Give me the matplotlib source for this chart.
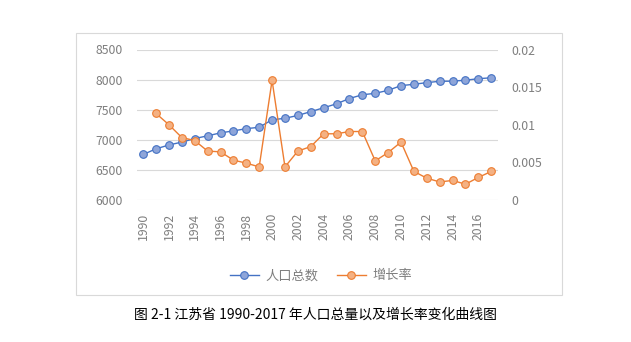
import numpy as np
import matplotlib.pyplot as plt
from matplotlib.patches import Rectangle
from matplotlib.lines import Line2D

plt.rcParams['font.family'] = ['Noto Sans CJK SC', 'DejaVu Sans']

years = list(range(1990, 2018))
population = [6756, 6850, 6914, 6962, 7021, 7066, 7115, 7148, 7185, 7208,
              7333, 7357, 7405, 7468, 7532, 7598, 7686, 7748, 7772, 7822,
              7900, 7922, 7950, 7972, 7974, 7990, 8015, 8030]
# growth rate starts in 1991
rate = [None, 0.0115, 0.0100, 0.0083, 0.0079, 0.0065, 0.0064, 0.0053, 0.0049, 0.0044,
        0.0159, 0.0044, 0.0065, 0.0071, 0.0088, 0.0088, 0.0091, 0.0091, 0.0052, 0.0063,
        0.0077, 0.0038, 0.0029, 0.0024, 0.0026, 0.0021, 0.0030, 0.0038]

left_ticks = [6000, 6500, 7000, 7500, 8000, 8500]
right_ticks = [0, 0.005, 0.01, 0.015, 0.02]
right_labels = ['0', '0.005', '0.01', '0.015', '0.02']

gray = '#7f7f7f'
grid_c = '#d9d9d9'
blue_line, blue_face = '#4472c4', '#8ea5d9'
orange_line, orange_face = '#ed7d31', '#f4b183'

fig = plt.figure(figsize=(6.31, 3.42), dpi=100)
fig.patches.append(Rectangle((76 / 631, 47 / 342), 486 / 631, 262 / 342,
                             transform=fig.transFigure, fill=False,
                             edgecolor=grid_c, linewidth=0.8))

ax = fig.add_axes([136.7 / 631, 142 / 342, 361 / 631, 150.5 / 342])
x = np.arange(len(years))
ax.plot(x, population, color=blue_line, lw=1.0, marker='o', ms=5.5,
        mfc=blue_face, mec=blue_line, mew=0.8, zorder=3)
ax.set_xlim(-0.5, len(years) - 0.5)
ax.set_ylim(6000, 8500)
ax.set_yticks(left_ticks)
ax.grid(axis='y', color=grid_c, lw=0.8)
ax.set_axisbelow(True)
ax.set_xticks(x[::2])
ax.set_xticklabels([str(y) for y in years[::2]], rotation=90, va='top')
for s in ax.spines.values():
    s.set_visible(False)
ax.tick_params(axis='both', length=0, colors=gray, labelsize=8.8)
ax.tick_params(axis='y', pad=10)
ax.tick_params(axis='x', pad=9)

ax2 = ax.twinx()
rx = [i for i, r in enumerate(rate) if r is not None]
ry = [r for r in rate if r is not None]
ax2.plot(rx, ry, color=orange_line, lw=1.0, marker='o', ms=5.5,
         mfc=orange_face, mec=orange_line, mew=0.8, zorder=3)
ax2.set_ylim(0, 0.02)
ax2.set_yticks(right_ticks)
ax2.set_yticklabels(right_labels)
for s in ax2.spines.values():
    s.set_visible(False)
ax2.tick_params(axis='y', length=0, colors=gray, labelsize=8.8, pad=10)

handles = [Line2D([], [], color=blue_line, lw=1.0, marker='o', ms=5.5,
                  mfc=blue_face, mec=blue_line, mew=0.8),
           Line2D([], [], color=orange_line, lw=1.0, marker='o', ms=5.5,
                  mfc=orange_face, mec=orange_line, mew=0.8)]
leg = fig.legend(handles, ['人口总数', '增长率'], loc='center',
                 bbox_to_anchor=(321 / 631, 66 / 342), ncol=2, frameon=False,
                 fontsize=9.5, handlelength=2.2, handletextpad=0.5,
                 columnspacing=1.4)
for t in leg.get_texts():
    t.set_color(gray)

fig.text(316 / 631, 27 / 342, '图 2-1 江苏省 1990-2017 年人口总量以及增长率变化曲线图',
         ha='center', va='center', fontsize=10, color='black')

fig.savefig('out.png', dpi=100)
